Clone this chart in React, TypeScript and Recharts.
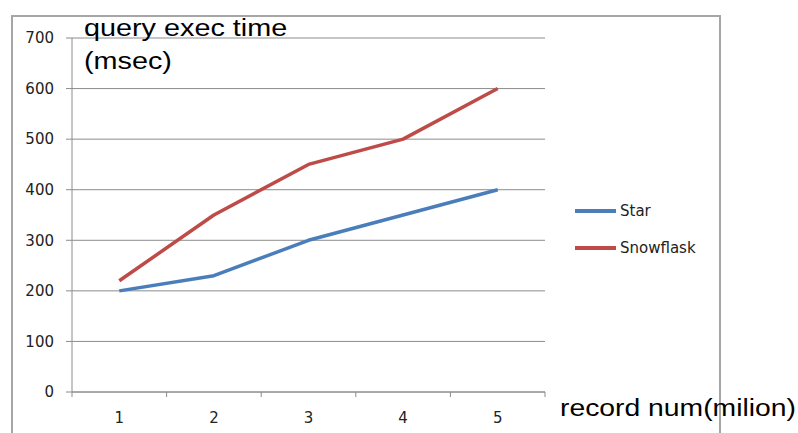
import React from 'react';
import { LineChart, Line, XAxis, YAxis, CartesianGrid, Legend } from 'recharts';

const recordNums = ['1', '2', '3', '4', '5'];
const seriesNames = ['Star', 'Snowflask'];
const starTimes = [200, 230, 300, 350, 400];
const snowflaskTimes = [220, 350, 450, 500, 600];
const yTicks = [0, 100, 200, 300, 400, 500, 600, 700];

const data = recordNums.map((n, i) => ({
  n,
  Star: starTimes[i],
  Snowflask: snowflaskTimes[i],
}));

const W = 798;
const H = 433;
const PLOT_LEFT = 72;
const PLOT_RIGHT = 545;
const PLOT_TOP = 38;
const PLOT_BOTTOM = 392;
const Y_AXIS_W = 60;
const X_AXIS_H = 30;
const BAND = (PLOT_RIGHT - PLOT_LEFT) / recordNums.length;

const GRAY = '#8c8c8c';
const TEXT = '#222';
const TICK_FONT = '"DejaVu Sans", Verdana, sans-serif';
const TITLE_FONT = '"Liberation Sans", Arial, sans-serif';

// category labels sit mid-band, tick marks go on the band edges
const CategoryTick = (props: any) => {
  const { x, payload, index } = props;
  const left = x - BAND / 2;
  const right = x + BAND / 2;
  return (
    <g>
      <line x1={left} x2={left} y1={PLOT_BOTTOM} y2={PLOT_BOTTOM + 5} stroke={GRAY} />
      {index === recordNums.length - 1 && (
        <line x1={right} x2={right} y1={PLOT_BOTTOM} y2={PLOT_BOTTOM + 5} stroke={GRAY} />
      )}
      <text x={x} y={PLOT_BOTTOM + 31} textAnchor="middle" fontSize={15} fill={TEXT} fontFamily={TICK_FONT}>
        {payload.value}
      </text>
    </g>
  );
};

// keep legend rows in series order (Star first)
const LegendBox = ({ payload }: any) => {
  const items = [...(payload || [])].sort(
    (a: any, b: any) => seriesNames.indexOf(a.value) - seriesNames.indexOf(b.value)
  );
  return (
    <div>
      {items.map((item: any) => (
        <div key={item.value} style={{ display: 'flex', alignItems: 'center', height: 37 }}>
          <span style={{ display: 'inline-block', width: 41, height: 4, background: item.color, marginRight: 4 }} />
          <span style={{ fontFamily: TICK_FONT, fontSize: 15, color: TEXT }}>{item.value}</span>
        </div>
      ))}
    </div>
  );
};

export default function App() {
  return (
    <div style={{ position: 'absolute', left: 0, top: 0, width: W, height: H, background: '#fff', overflow: 'hidden' }}>
      <div
        style={{
          position: 'absolute',
          left: 11,
          top: 15,
          width: 706,
          height: 440,
          border: '2px solid #a6a6a6',
        }}
      />
      <LineChart
        width={W}
        height={H}
        data={data}
        margin={{
          top: PLOT_TOP,
          right: W - PLOT_RIGHT,
          left: PLOT_LEFT - Y_AXIS_W,
          bottom: H - PLOT_BOTTOM - X_AXIS_H,
        }}
        style={{ position: 'absolute', left: 0, top: 0 }}
      >
        <CartesianGrid vertical={false} stroke={GRAY} />
        <XAxis
          dataKey="n"
          scale="band"
          height={X_AXIS_H}
          axisLine={{ stroke: GRAY }}
          tickLine={false}
          tick={<CategoryTick />}
          interval={0}
        />
        <YAxis
          domain={[0, 700]}
          ticks={yTicks}
          width={Y_AXIS_W}
          tickSize={6}
          tickMargin={12}
          axisLine={{ stroke: GRAY }}
          tickLine={{ stroke: GRAY }}
          tick={{ fontSize: 15, fill: TEXT, fontFamily: TICK_FONT }}
        />
        <Legend
          layout="vertical"
          align="center"
          verticalAlign="middle"
          content={<LegendBox />}
          wrapperStyle={{ position: 'absolute', left: 575, top: 192, width: 160 }}
        />
        <Line
          dataKey="Star"
          stroke="#4a7ebb"
          strokeWidth={3.5}
          dot={false}
          strokeLinejoin="round"
          isAnimationActive={false}
        />
        <Line
          dataKey="Snowflask"
          stroke="#be4b48"
          strokeWidth={3.5}
          dot={false}
          strokeLinejoin="round"
          isAnimationActive={false}
        />
      </LineChart>
      <svg width={W} height={H} style={{ position: 'absolute', left: 0, top: 0, pointerEvents: 'none' }}>
        <g fontFamily={TITLE_FONT} fontSize={24} fill="#000">
          <text transform="translate(84,36) scale(1.2,1)">query exec time</text>
          <text transform="translate(84,69) scale(1.2,1)">(msec)</text>
          <text transform="translate(560,416) scale(1.18,1)">record num(milion)</text>
        </g>
      </svg>
    </div>
  );
}
